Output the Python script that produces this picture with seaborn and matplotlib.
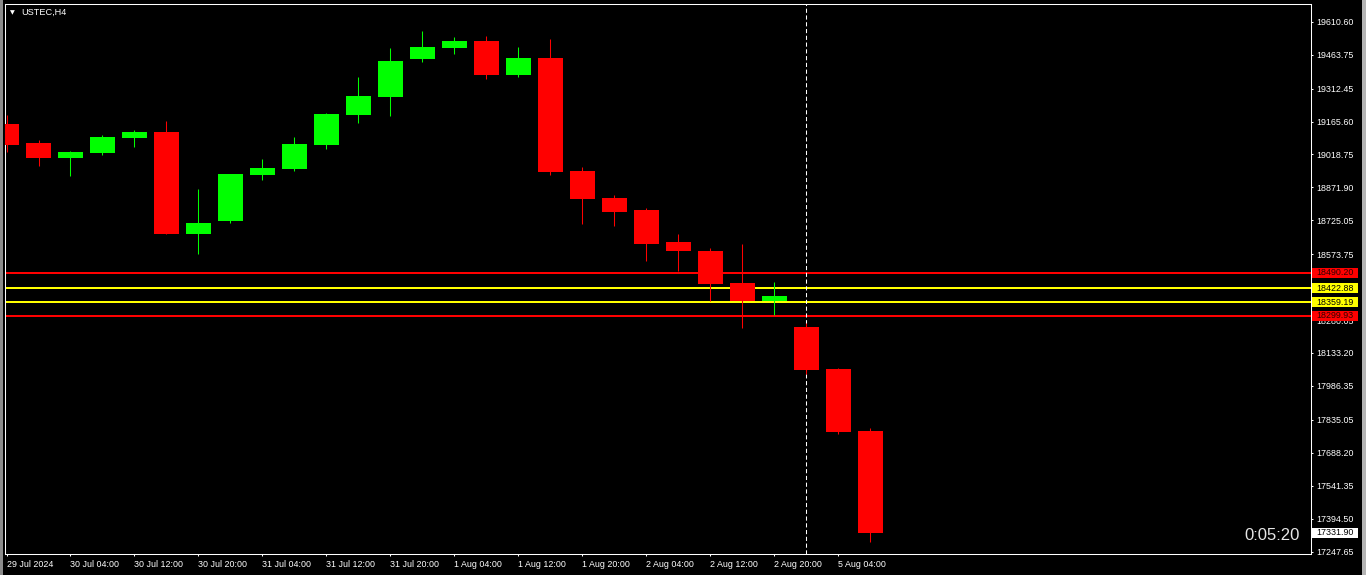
import numpy as np
import pandas as pd
import matplotlib
matplotlib.use('Agg')
import matplotlib.pyplot as plt
import matplotlib.transforms as mtransforms
from matplotlib.patches import Rectangle
import seaborn as sns

# USTEC H4 bars, 29 Jul 20:00 -> 5 Aug 08:00
opens = [19153.1, 19068.4, 19002.9, 19025.2, 19092.0, 19117.4, 18664.1, 18722.0,
         18927.1, 18953.8, 19060.8, 19194.6, 19274.8, 19444.2, 19493.3, 19523.1,
         19372.9, 19447.3, 18943.6, 18823.2, 18769.7, 18627.1, 18586.9, 18444.3,
         18365.4, 18248.2, 18060.9, 17784.5]
highs = [19193.2, 19081.8, 19032.7, 19104.1, 19126.4, 19166.5, 18863.3, 18932.0,
         18997.1, 19095.2, 19202.2, 19362.6, 19492.0, 19567.7, 19541.0, 19545.4,
         19496.4, 19532.0, 18961.4, 18836.6, 18778.6, 18662.7, 18600.3, 18618.1,
         18448.8, 18267.3, 18066.7, 17797.9]
lows = [19029.6, 18967.2, 18922.6, 19016.3, 19051.9, 18662.7, 18574.9, 18713.1,
        18904.8, 18944.9, 19043.0, 19158.9, 19190.1, 19430.8, 19466.5, 19355.1,
        19364.0, 18927.1, 18708.6, 18699.7, 18543.7, 18499.1, 18365.4, 18245.0,
        18302.9, 18039.9, 17772.5, 17291.0]
closes = [19060.8, 19002.9, 19028.3, 19095.2, 19117.4, 18664.1, 18711.8, 18930.2,
          18957.0, 19063.9, 19197.7, 19277.9, 19434.0, 19496.4, 19523.1, 19372.9,
          19447.3, 18940.5, 18820.2, 18762.1, 18619.5, 18588.3, 18441.2, 18365.4,
          18386.3, 18057.8, 17781.4, 17331.9]

# one label every second bar
tick_labels = ['29 Jul 2024', '30 Jul 04:00', '30 Jul 12:00', '30 Jul 20:00',
               '31 Jul 04:00', '31 Jul 12:00', '31 Jul 20:00', '1 Aug 04:00',
               '1 Aug 12:00', '1 Aug 20:00', '2 Aug 04:00', '2 Aug 12:00',
               '2 Aug 20:00', '5 Aug 04:00']
price_ticks = [19610.60, 19463.75, 19312.45, 19165.60, 19018.75, 18871.90,
               18725.05, 18573.75, 18426.90, 18280.05, 18133.20, 17986.35,
               17835.05, 17688.20, 17541.35, 17394.50, 17247.65]
hidden_ticks = [18426.90]  # fully covered by the 18422.88 tag in the terminal

level_values = [18490.20, 18422.88, 18359.19, 18299.93]
level_colors = ['#ff0000', '#ffff00', '#ffff00', '#ff0000']
last_price = 17331.90
cursor_bar = 25
symbol_text = 'USTEC,H4'
timer_text = '0:05:20'

UP, DOWN = '#00ff00', '#ff0000'
W_PX, H_PX = 1366, 575
Y_MIN, Y_MAX = 17236.5, 19690.0

sns.set_theme(style='dark', rc={'axes.facecolor': 'black', 'figure.facecolor': 'black',
                                'axes.edgecolor': 'white', 'text.color': 'white'})
plt.rcParams['font.family'] = ['Liberation Sans', 'DejaVu Sans']

df = pd.DataFrame({'open': opens, 'high': highs, 'low': lows, 'close': closes})
df['x'] = np.arange(len(df))
df['color'] = np.where(df['close'] >= df['open'], UP, DOWN)

fig = plt.figure(figsize=(W_PX / 100, H_PX / 100), dpi=100)
ax = fig.add_axes([5 / W_PX, 21 / H_PX, 1306 / W_PX, 550 / H_PX])
ax.set_facecolor('black')
ax.grid(False)

# levels and cursor line sit behind the candles
for v, c in zip(level_values, level_colors):
    ax.axhline(v, color=c, lw=1.45, zorder=1)
ax.axvline(cursor_bar, color='white', lw=0.75, ls=(0, (4, 2.5)), zorder=1)

ax.vlines(df['x'], df['low'], df['high'], colors=df['color'], lw=0.75, zorder=2)
ax.bar(df['x'], (df['close'] - df['open']).abs().clip(lower=3),
       bottom=df[['open', 'close']].min(axis=1), width=0.78,
       color=df['color'], linewidth=0, zorder=3)

ax.set_xlim(-0.047, 40.77)
ax.set_ylim(Y_MIN, Y_MAX)

ax.set_xticks(np.arange(0, 2 * len(tick_labels), 2))
ax.set_xticklabels(tick_labels)
for lbl in ax.get_xticklabels():
    lbl.set_horizontalalignment('left')
ax.yaxis.tick_right()
ax.set_yticks(price_ticks)
ax.set_yticklabels(['' if v in hidden_ticks else f'{v:.2f}' for v in price_ticks])
ax.tick_params(axis='x', bottom=True, colors='white', labelsize=6.4,
               length=1.6, width=0.75, pad=2.6)
ax.tick_params(axis='y', right=True, left=False, labelright=True, labelleft=False,
               colors='white', labelsize=6.4, length=1.6, width=0.75, pad=2.0)
for s in ax.spines.values():
    s.set_color('white')
    s.set_linewidth(0.75)

# price tags on the right scale
trans = mtransforms.blended_transform_factory(ax.transAxes, ax.transData)
px_price = (Y_MAX - Y_MIN) / 550
tags = list(zip(level_values, level_colors, ['#300000', 'black', 'black', '#300000']))
tags.append((last_price, 'white', 'black'))
for v, bg, fg in tags:
    ax.add_patch(Rectangle((1 + 1 / 1306, v - 5 * px_price), 46 / 1306, 10 * px_price,
                           transform=trans, facecolor=bg, edgecolor='none',
                           clip_on=False, zorder=5))
    ax.text(1 + 5.5 / 1306, v, f'{v:.2f}', transform=trans, color=fg,
            fontsize=6.4, ha='left', va='center', clip_on=False, zorder=6)

fig.text(10 / W_PX, 1 - 12.5 / H_PX, '▼', fontsize=4.5, color='white',
         va='center', ha='left', family=['DejaVu Sans'])
fig.text(21 / W_PX, 1 - 12.5 / H_PX, symbol_text, fontsize=6.6, color='white',
         va='center', ha='left')
fig.text(1299.5 / W_PX, 1 - 535 / H_PX, timer_text, fontsize=12, color='#e6e6e6',
         va='center', ha='right')

# grey window borders
fig.patches.append(Rectangle((0, 0), 3 / W_PX, 1, transform=fig.transFigure,
                             facecolor='#8c8c8c', edgecolor='none'))
fig.patches.append(Rectangle((1362 / W_PX, 0), 4 / W_PX, 1, transform=fig.transFigure,
                             facecolor='#b4b4b4', edgecolor='none'))

fig.savefig('out.png', dpi=100, facecolor='black')
